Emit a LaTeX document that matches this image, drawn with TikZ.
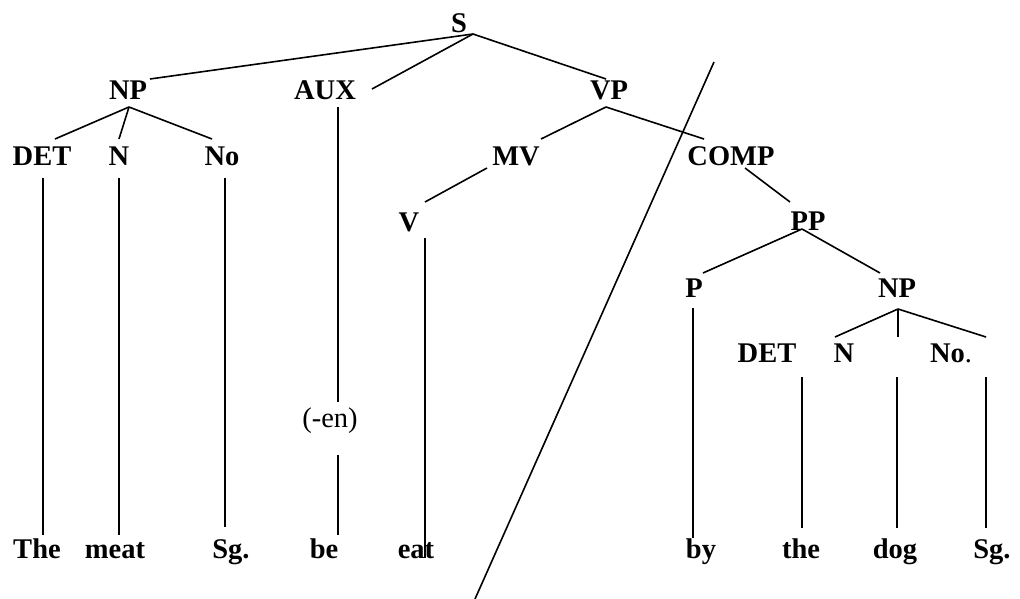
\documentclass[tikz,border=0pt]{standalone}
\usepackage{fontspec}
\setmainfont{Liberation Serif}
\usetikzlibrary{positioning}
\tikzset{
    cat/.style={font=\fontsize{28.5}{32}\selectfont\bfseries, inner sep=0pt, anchor=base},
    gloss/.style={font=\fontsize{28.5}{32}\selectfont, inner sep=0pt, anchor=base},
    branch/.style={color=black, line width=1.6pt},
}

\begin{document}
\begin{tikzpicture}[x=1pt,y=-1pt]
    \useasboundingbox (0,0) rectangle (1020,599);

    % category labels
    \node[cat] (S) at (459,33) {S};
    \node[cat] (NP) at (128,100) {NP};
    \node[cat] (AUX) at (325,100) {AUX};
    \node[cat] (VP) at (609,100) {VP};
    \node[cat] (DET) at (42,165) {DET};
    \node[cat] (N) at (119,165) {N};
    \node[cat] (No) at (222,165) {No};
    \node[cat] (MV) at (516,165) {MV};
    \node[cat] (COMP) at (731,165) {COMP};
    \node[cat] (V) at (409,231) {V};
    \node[cat] (PP) at (808,230) {PP};
    \node[cat] (P) at (694,297) {P};
    \node[cat] (NPb) at (897,297) {NP};
    \node[cat] (DETb) at (767,362) {DET};
    \node[cat] (Nb) at (844,362) {N};
    \node[cat] (Nob) at (951,362) {No\textmd{.}};
    \node[gloss] (en) at (330,427) {(-en)};

    % words
    \node[cat] (The) at (37,558) {The};
    \node[cat] (meat) at (115,558) {meat};
    \node[cat] (Sg) at (231,558) {Sg.};
    \node[cat] (be) at (324,558) {be};
    \node[cat] (eat) at (416,558) {eat};
    \node[cat] (by) at (701,558) {by};
    \node[cat] (the) at (801,558) {the};
    \node[cat] (dog) at (895,558) {dog};
    \node[cat] (Sgb) at (992,558) {Sg.};

    % where the branches meet the labels (-f below, -h above)
    \coordinate (S-f) at (473,34);
    \coordinate (NP-h) at (150,79);   \coordinate (NP-f) at (129,107);
    \coordinate (AUX-h) at (372,89);  \coordinate (AUX-f) at (338,107);
    \coordinate (VP-h) at (606,79);   \coordinate (VP-f) at (606,107);
    \coordinate (DET-h) at (55,139);  \coordinate (DET-f) at (43,178);
    \coordinate (N-h) at (119,139);   \coordinate (N-f) at (119,178);
    \coordinate (No-h) at (212,139);  \coordinate (No-f) at (225,178);
    \coordinate (MV-h) at (541,139);  \coordinate (MV-f) at (487,168);
    \coordinate (COMP-h) at (704,139); \coordinate (COMP-f) at (745,168);
    \coordinate (V-h) at (425,202);   \coordinate (V-f) at (425,238);
    \coordinate (PP-h) at (790,202);  \coordinate (PP-f) at (802,229);
    \coordinate (P-h) at (703,273);   \coordinate (P-f) at (693,308);
    \coordinate (NPb-h) at (880,273); \coordinate (NPb-f) at (898,309);
    \coordinate (DETb-h) at (835,337); \coordinate (DETb-f) at (802,377);
    \coordinate (Nb-h) at (898,337);  \coordinate (Nb-f) at (897,377);
    \coordinate (Nob-h) at (986,337); \coordinate (Nob-f) at (986,377);
    \coordinate (en-h) at (338,402);  \coordinate (en-f) at (338,455);
    \coordinate (The-h) at (43,535);
    \coordinate (meat-h) at (119,535);
    \coordinate (Sg-h) at (225,527);
    \coordinate (be-h) at (338,535);
    \coordinate (eat-h) at (425,558);
    \coordinate (by-h) at (693,538);
    \coordinate (the-h) at (802,528);
    \coordinate (dog-h) at (897,528);
    \coordinate (Sgb-h) at (986,528);

    \draw[branch] (S-f) -- (NP-h);
    \draw[branch] (S-f) -- (AUX-h);
    \draw[branch] (S-f) -- (VP-h);

    \draw[branch] (NP-f) -- (DET-h);
    \draw[branch] (NP-f) -- (N-h);
    \draw[branch] (NP-f) -- (No-h);
    \draw[branch] (DET-f) -- (The-h);
    \draw[branch] (N-f) -- (meat-h);
    \draw[branch] (No-f) -- (Sg-h);

    \draw[branch] (AUX-f) -- (en-h);
    \draw[branch] (en-f) -- (be-h);

    \draw[branch] (VP-f) -- (MV-h);
    \draw[branch] (VP-f) -- (COMP-h);
    \draw[branch] (MV-f) -- (V-h);
    \draw[branch] (V-f) -- (eat-h);
    \draw[branch] (COMP-f) -- (PP-h);
    \draw[branch] (PP-f) -- (P-h);
    \draw[branch] (PP-f) -- (NPb-h);
    \draw[branch] (P-f) -- (by-h);

    \draw[branch] (NPb-f) -- (DETb-h);
    \draw[branch] (NPb-f) -- (Nb-h);
    \draw[branch] (NPb-f) -- (Nob-h);
    \draw[branch] (DETb-f) -- (the-h);
    \draw[branch] (Nb-f) -- (dog-h);
    \draw[branch] (Nob-f) -- (Sgb-h);

    % the cut through the tree
    \coordinate (cut-a) at (714,62);
    \coordinate (cut-b) at (475,599);
    \draw[branch] (cut-a) -- (cut-b);
\end{tikzpicture}
\end{document}
